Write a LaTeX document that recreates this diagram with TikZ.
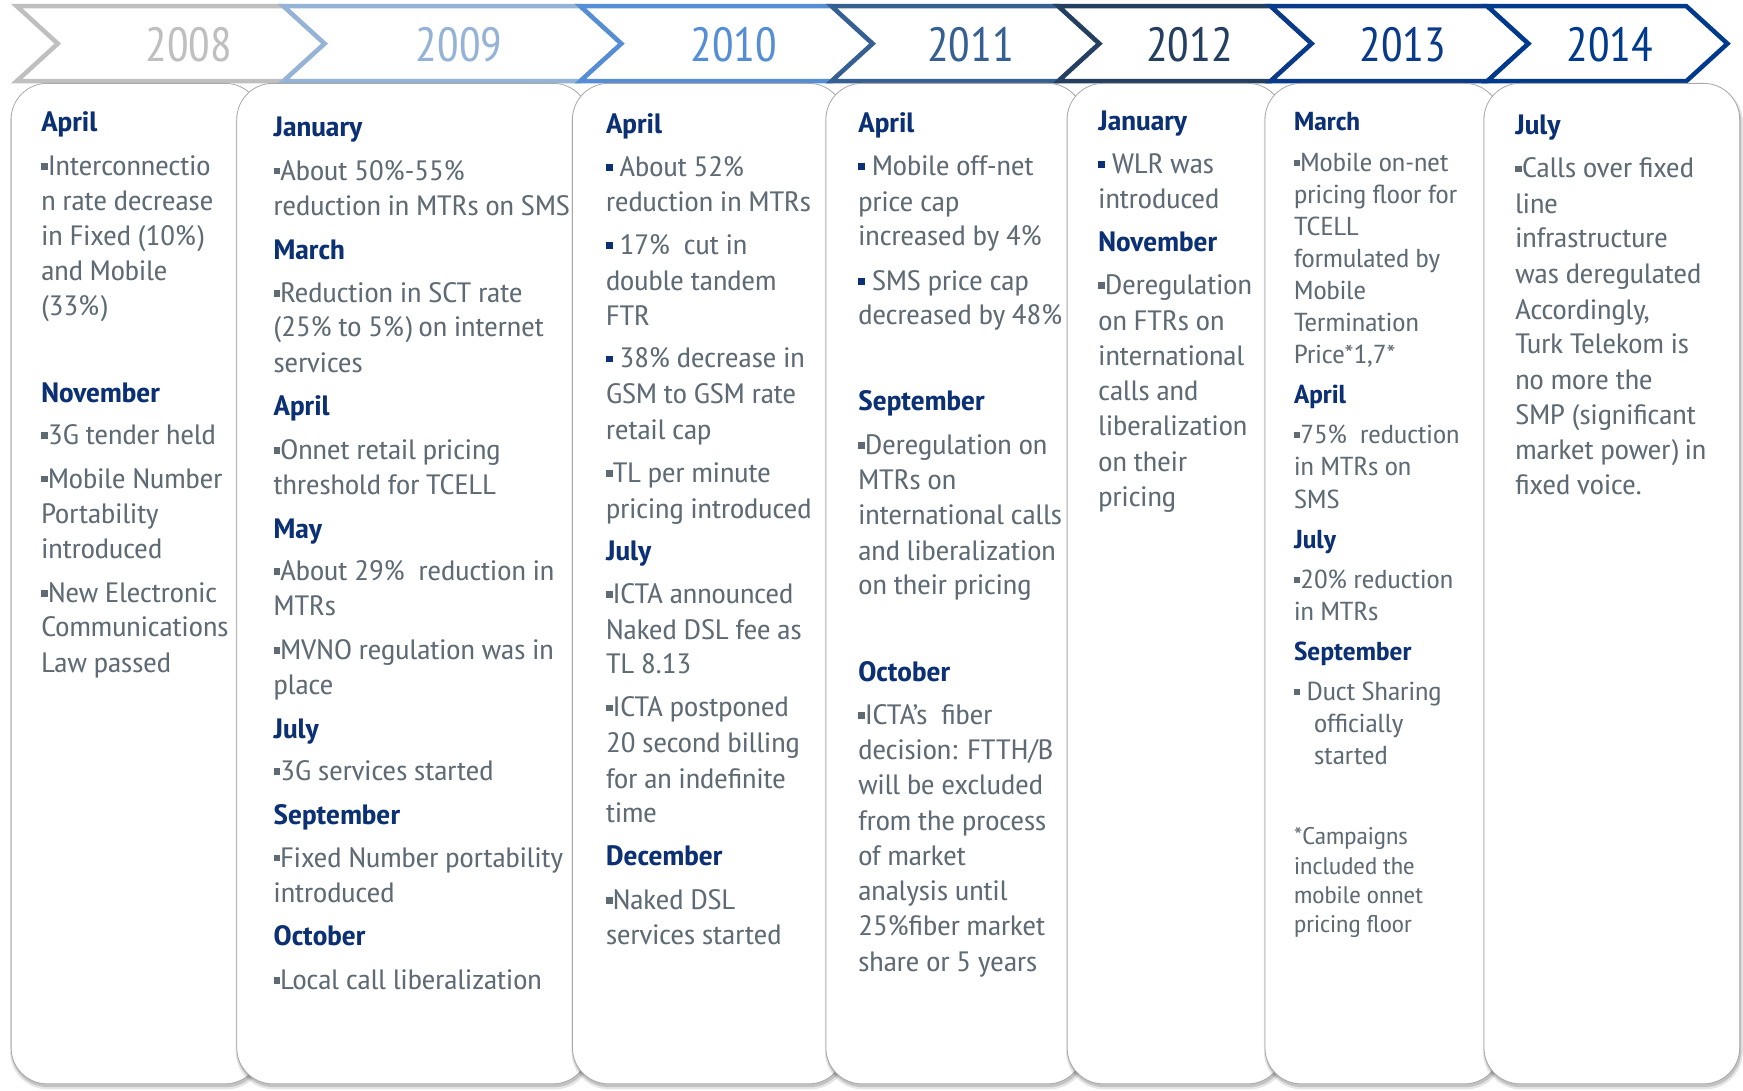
\documentclass[tikz,border=0pt]{standalone}
\usepackage{fontspec}
\setmainfont{PT Sans Narrow}[FakeStretch=1.17]
\newfontfamily\yrfont{PT Sans Narrow}
\usetikzlibrary{shadows}
\definecolor{c08}{HTML}{BFBFBF}
\definecolor{c09}{HTML}{95B3D7}
\definecolor{c10}{HTML}{558ED5}
\definecolor{c11}{HTML}{376092}
\definecolor{c12}{HTML}{243F60}
\definecolor{c13}{HTML}{0A3A8A}
\definecolor{c14}{HTML}{003A8C}
\definecolor{monc}{HTML}{0B3073}
\definecolor{bodyc}{HTML}{5E6A74}
\definecolor{edgec}{HTML}{A8A8A8}
\newcounter{ln}
\newcommand\tx[4][body]{\stepcounter{ln}\node[#1] (l\arabic{ln}) at (#2,{#3+8}) {#4};}
\newcommand\gb{\textcolor{bodyc}{\rule[0.2em]{0.24em}{0.24em}}}
\newcommand\nb{\textcolor{monc}{\rule[0.2em]{0.24em}{0.24em}}\ }
\newcommand\chev[3]{\draw[chev, draw=#1] (#2,5.5) -- (#3,5.5) -- ({#3+37},39.25) -- (#3,73) -- (#2,73) -- ({#2+37},39.25) -- cycle;}
\newcommand\card[4]{%
  \fill[black, opacity=0.10, rounded corners=38pt] ({#1-1},{#2+1}) rectangle ({#3+3},{#4+5});
  \fill[black, opacity=0.15, rounded corners=37pt] ({#1},{#2+2}) rectangle ({#3+1.5},{#4+3});
  \draw[cardst] (#1,#2) rectangle (#3,#4);}
\tikzset{
  body/.style={anchor=base west, inner sep=0pt, text=bodyc, font=\fontsize{28}{32}\selectfont},
  mon/.style={anchor=base west, inner sep=0pt, text=monc, font=\bfseries\fontsize{28}{32}\selectfont},
  sm/.style={anchor=base west, inner sep=0pt, text=bodyc, font=\fontsize{26}{30}\selectfont},
  smmon/.style={anchor=base west, inner sep=0pt, text=monc, font=\bfseries\fontsize{26}{30}\selectfont},
  foot/.style={anchor=base west, inner sep=0pt, text=bodyc, font=\fontsize{24}{26}\selectfont},
  yr/.style={inner sep=0pt, font=\yrfont\fontsize{48}{48}\selectfont},
  chev/.style={fill=white, line width=4.5pt, line join=miter},
  cardst/.style={fill=white, draw=edgec, line width=0.8pt, rounded corners=36pt}
}
\begin{document}
\begin{tikzpicture}[x=1.1116pt, y=-1.1116pt]
\useasboundingbox (0,0) rectangle (1568,981);
\fill[white] (0,0) rectangle (1568,981);
% header chevrons
\chev{c08}{15}{255}
\chev{c09}{255}{522}
\chev{c10}{522}{748}
\chev{c11}{748}{952}
\chev{c12}{952}{1143}
\chev{c13}{1143}{1338}
\chev{c14}{1338}{1517}
\node[yr, text=c08] (y08) at (170,40) {2008};
\node[yr, text=c09] (y09) at (413,40) {2009};
\node[yr, text=c10] (y10) at (660,40) {2010};
\node[yr, text=c11] (y11) at (873,40) {2011};
\node[yr, text=c12] (y12) at (1070,40) {2012};
\node[yr, text=c13] (y13) at (1262,40) {2013};
\node[yr, text=c14] (y14) at (1448,40) {2014};
% 2008
\card{10}{75}{235}{975}
\tx[mon]{37}{110}{April}
\tx{37}{150}{\gb Interconnectio}
\tx{37}{181}{n rate decrease}
\tx{37}{213}{in Fixed (10\%)}
\tx{37}{244}{and Mobile}
\tx{37}{276}{(33\%)}
\tx[mon]{37}{354}{November}
\tx{37}{392}{\gb 3G tender held}
\tx{37}{431}{\gb Mobile Number}
\tx{37}{463}{Portability}
\tx{37}{494}{introduced}
\tx{37}{534}{\gb New Electronic}
\tx{37}{565}{Communications}
\tx{37}{597}{Law passed}
% 2009
\card{213}{75}{530}{975}
\tx[mon]{246}{115}{January}
\tx{246}{154}{\gb About 50\%-55\%}
\tx{246}{186}{reduction in MTRs on SMS}
\tx[mon]{246}{225}{March}
\tx{246}{264}{\gb Reduction in SCT rate}
\tx{246}{295}{(25\% to 5\%) on internet}
\tx{246}{327}{services}
\tx[mon]{246}{366}{April}
\tx{246}{405}{\gb Onnet retail pricing}
\tx{246}{437}{threshold for TCELL}
\tx[mon]{246}{476}{May}
\tx{246}{514}{\gb About 29\%\ \ reduction in}
\tx{246}{546}{MTRs}
\tx{246}{585}{\gb MVNO regulation was in}
\tx{246}{617}{place}
\tx[mon]{246}{656}{July}
\tx{246}{694}{\gb 3G services started}
\tx[mon]{246}{734}{September}
\tx{246}{772}{\gb Fixed Number portability}
\tx{246}{804}{introduced}
\tx[mon]{246}{843}{October}
\tx{246}{882}{\gb Local call liberalization}
% 2010
\card{515}{75}{760}{975}
\tx[mon]{545}{112}{April}
\tx{545}{151}{\nb About 52\%}
\tx{545}{182}{reduction in MTRs}
\tx{545}{221}{\nb 17\%\ \ cut in}
\tx{545}{253}{double tandem}
\tx{545}{285}{FTR}
\tx{545}{323}{\nb 38\% decrease in}
\tx{545}{355}{GSM to GSM rate}
\tx{545}{387}{retail cap}
\tx{545}{426}{\gb TL per minute}
\tx{545}{458}{pricing introduced}
\tx[mon]{545}{496}{July}
\tx{545}{535}{\gb ICTA announced}
\tx{545}{567}{Naked DSL fee as}
\tx{545}{598}{TL 8.13}
\tx{545}{637}{\gb ICTA postponed}
\tx{545}{669}{20 second billing}
\tx{545}{701}{for an indefinite}
\tx{545}{732}{time}
\tx[mon]{545}{771}{December}
\tx{545}{810}{\gb Naked DSL}
\tx{545}{842}{services started}
% 2011
\card{743}{75}{975}{975}
\tx[mon]{772}{111}{April}
\tx{772}{150}{\nb Mobile off-net}
\tx{772}{182}{price cap}
\tx{772}{213}{increased by 4\%}
\tx{772}{253}{\nb SMS price cap}
\tx{772}{284}{decreased by 48\%}
\tx[mon]{772}{361}{September}
\tx{772}{401}{\gb Deregulation on}
\tx{772}{432}{MTRs on}
\tx{772}{464}{international calls}
\tx{772}{496}{and liberalization}
\tx{772}{527}{on their pricing}
\tx[mon]{772}{605}{October}
\tx{772}{644}{\gb ICTA’s\ \ fiber}
\tx{772}{675}{decision: FTTH/B}
\tx{772}{707}{will be excluded}
\tx{772}{739}{from the process}
\tx{772}{771}{of market}
\tx{772}{802}{analysis until}
\tx{772}{834}{25\%fiber market}
\tx{772}{866}{share or 5 years}
% 2012
\card{960}{75}{1155}{975}
\tx[mon]{988}{109}{January}
\tx{988}{148}{\nb WLR was}
\tx{988}{180}{introduced}
\tx[mon]{988}{218}{November}
\tx{988}{257}{\gb Deregulation}
\tx{988}{289}{on FTRs on}
\tx{988}{321}{international}
\tx{988}{352}{calls and}
\tx{988}{384}{liberalization}
\tx{988}{416}{on their}
\tx{988}{448}{pricing}
% 2013
\card{1138}{75}{1350}{975}
\tx[smmon]{1164}{109}{March}
\tx[sm]{1164}{146}{\gb Mobile on-net}
\tx[sm]{1164}{175}{pricing floor for}
\tx[sm]{1164}{204}{TCELL}
\tx[sm]{1164}{233}{formulated by}
\tx[sm]{1164}{261}{Mobile}
\tx[sm]{1164}{290}{Termination}
\tx[sm]{1164}{319}{Price*1,7*}
\tx[smmon]{1164}{355}{April}
\tx[sm]{1164}{391}{\gb 75\%\ \ reduction}
\tx[sm]{1164}{420}{in MTRs on}
\tx[sm]{1164}{449}{SMS}
\tx[smmon]{1164}{485}{July}
\tx[sm]{1164}{521}{\gb 20\% reduction}
\tx[sm]{1164}{550}{in MTRs}
\tx[smmon]{1164}{586}{September}
\tx[sm]{1164}{622}{\gb\ Duct Sharing}
\tx[sm]{1182}{651}{officially}
\tx[sm]{1182}{680}{started}
\tx[foot]{1164}{752}{*Campaigns}
\tx[foot]{1164}{779}{included the}
\tx[foot]{1164}{805}{mobile onnet}
\tx[foot]{1164}{831}{pricing floor}
% 2014
\card{1335}{75}{1565}{975}
\tx[mon]{1363}{113}{July}
\tx{1363}{152}{\gb Calls over fixed}
\tx{1363}{184}{line}
\tx{1363}{215}{infrastructure}
\tx{1363}{247}{was deregulated}
\tx{1363}{279}{Accordingly,}
\tx{1363}{310}{Turk Telekom is}
\tx{1363}{342}{no more the}
\tx{1363}{374}{SMP (significant}
\tx{1363}{405}{market power) in}
\tx{1363}{437}{fixed voice.}
\end{tikzpicture}
\end{document}
